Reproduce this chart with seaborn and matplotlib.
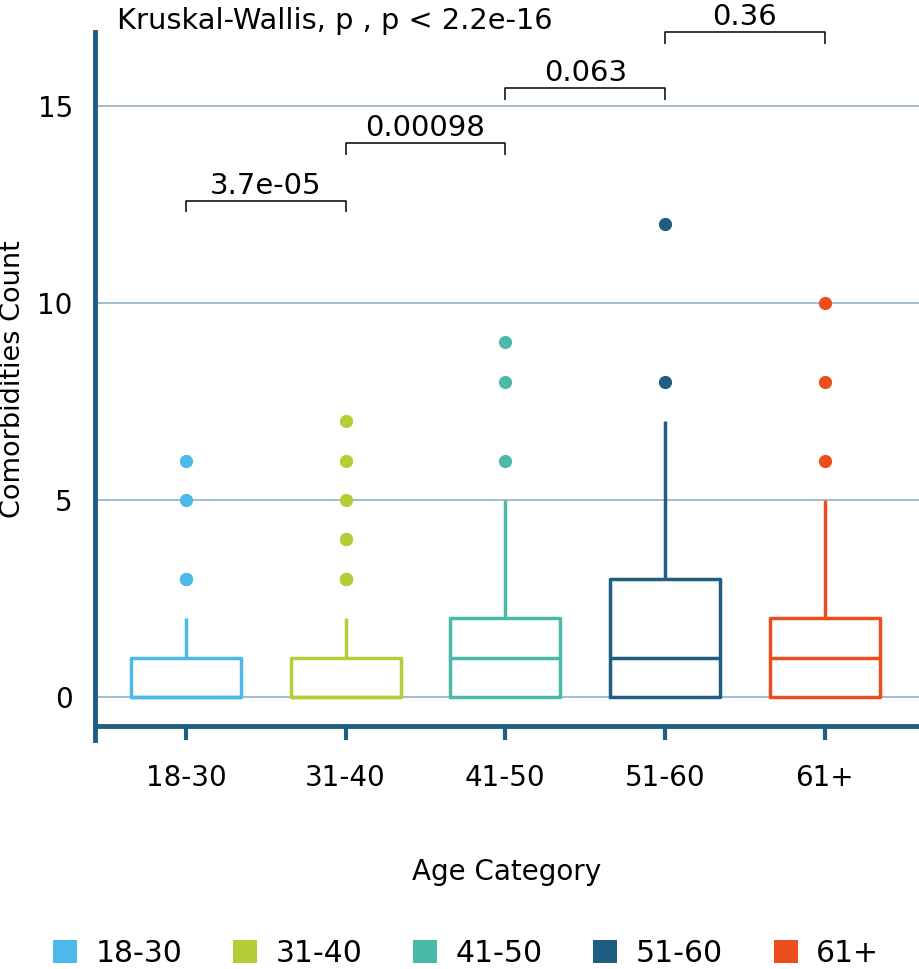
import numpy as np
import pandas as pd
import seaborn as sns
import matplotlib.pyplot as plt
from matplotlib.patches import Patch

# ---- data -------------------------------------------------------------
categories = ["18-30", "31-40", "41-50", "51-60", "61+"]
colors = ["#4DB9EA", "#B5CD36", "#4AB9A9", "#1F5E80", "#EC4D1C"]

# number of patients having 0, 1, 2, ... comorbidities, per age category
counts_18_30 = [60, 30, 10, 2, 0, 1, 1]
counts_31_40 = [58, 35, 12, 3, 2, 1, 1, 1]
counts_41_50 = [40, 35, 25, 10, 5, 3, 1, 0, 1, 1]
counts_51_60 = [35, 30, 15, 15, 8, 5, 3, 2, 1, 0, 0, 0, 1]
counts_61p = [40, 35, 25, 10, 5, 3, 1, 0, 1, 0, 1]

pair_left = ["18-30", "31-40", "41-50", "51-60"]
pair_right = ["31-40", "41-50", "51-60", "61+"]
pair_pvals = ["3.7e-05", "0.00098", "0.063", "0.36"]
pair_ypos = [12.6, 14.05, 15.46, 16.88]
kw_label = "Kruskal-Wallis, p , p < 2.2e-16"

all_counts = [counts_18_30, counts_31_40, counts_41_50, counts_51_60, counts_61p]
rows = []
for cat, cnt in zip(categories, all_counts):
    vals = np.repeat(np.arange(len(cnt)), cnt)
    rows.append(pd.DataFrame({"Age Category": cat, "Comorbidities Count": vals}))
df = pd.concat(rows, ignore_index=True)

# ---- style ------------------------------------------------------------
sns.set_theme(style="white")
plt.rcParams["font.family"] = ["DejaVu Sans"]
plt.rcParams["text.color"] = "black"
plt.rcParams["axes.labelcolor"] = "black"

spine_col = "#1F5E80"
grid_col = "#8BA9BE"

fig = plt.figure(figsize=(9.19, 9.69), dpi=100)
ax = fig.add_axes([95 / 919, 243 / 969, 824 / 919, 694 / 969])

sns.boxplot(data=df, x="Age Category", y="Comorbidities Count",
            hue="Age Category", order=categories, hue_order=categories,
            palette=colors, fill=False, width=0.69, linewidth=2.5,
            showcaps=False, fliersize=8.5, flierprops=dict(marker="o"),
            legend=False, ax=ax)

for ln in ax.lines:
    if ln.get_marker() == "o":
        ln.set_markerfacecolor(ln.get_markeredgecolor())

ax.set_xlim(-0.57, 4.59)
ax.set_ylim(-0.736, 16.88)
ax.set_yticks([0, 5, 10, 15])
ax.yaxis.grid(True, color=grid_col, linewidth=1.1)
ax.xaxis.grid(False)
ax.set_axisbelow(True)

for s in ["top", "right"]:
    ax.spines[s].set_visible(False)
for s in ["left", "bottom"]:
    ax.spines[s].set_color(spine_col)
    ax.spines[s].set_linewidth(3.5)
ax.spines["left"].set_bounds(-1.09, 16.88)

ax.tick_params(axis="x", length=10, width=3, color=spine_col, pad=17,
               labelsize=20, labelcolor="black", bottom=True)
ax.tick_params(axis="y", length=0, pad=16, labelsize=20, labelcolor="black")

ax.set_xlabel("Age Category", fontsize=20, labelpad=48, color="black")
ax.set_ylabel("Comorbidities Count", fontsize=19.5, color="black")
ax.yaxis.set_label_coords(-0.084, 0.5)

# Kruskal-Wallis label
ax.text(-0.43, 16.95, kw_label, fontsize=20.8, va="baseline", ha="left",
        color="black", clip_on=False)

# pairwise brackets
pos = {c: i for i, c in enumerate(categories)}
for a, b, p, y in zip(pair_left, pair_right, pair_pvals, pair_ypos):
    x1, x2 = pos[a], pos[b]
    ax.plot([x1, x1, x2, x2], [y - 0.3, y, y, y - 0.3], color="black",
            lw=1.1, clip_on=False, solid_capstyle="butt")
    ax.text((x1 + x2) / 2, y + 0.18, p, ha="center", va="baseline",
            fontsize=21, color="black", clip_on=False)

handles = [Patch(facecolor=c, edgecolor="none") for c in colors]
leg = fig.legend(handles, categories, loc="lower center",
                 bbox_to_anchor=(466 / 919, 0.0), ncol=5, frameon=False,
                 fontsize=21.5, handlelength=0.8, handleheight=0.8,
                 handletextpad=0.62, columnspacing=1.7, borderpad=0.05,
                 borderaxespad=0)
for t in leg.get_texts():
    t.set_color("black")

fig.savefig("out.png", dpi=100)
